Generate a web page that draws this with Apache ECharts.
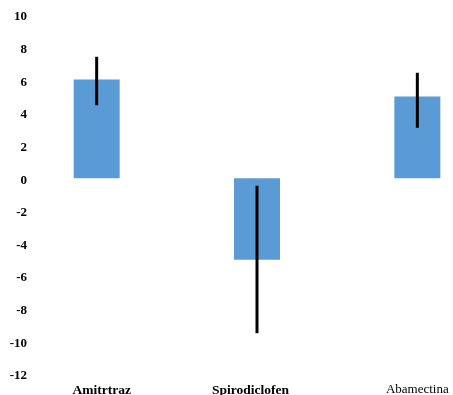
<!DOCTYPE html>
<html>
<head>
<meta charset="utf-8">
<script src="https://cdn.jsdelivr.net/npm/echarts@6/dist/echarts.min.js"></script>
<style>
  html, body { margin: 0; padding: 0; background: #fff; }
  #chart { width: 453px; height: 395px; }
</style>
</head>
<body>
<div id="chart"></div>
<script>
// Treatments and their mean values with error-bar ranges
const categories = ['Amitrtraz', 'Spirodiclofen', 'Abamectina'];
const means = [6.05, -5.0, 5.0];
const errLow = [4.47, -9.5, 3.09];
const errHigh = [7.44, -0.46, 6.46];
const yTicks = [-12, -10, -8, -6, -4, -2, 0, 2, 4, 6, 8, 10];

const chart = echarts.init(document.getElementById('chart'), null, { renderer: 'canvas' });

const serif = '"Liberation Serif", "Times New Roman", serif';
const labelFont = { fontFamily: serif, fontSize: 13, color: '#000' };

chart.setOption({
  animation: false,
  // plot area is wider than the canvas; the last band is clipped on the right
  grid: { left: 16.5, width: 481, top: 15, bottom: 21, outerBoundsMode: 'none', containLabel: false },
  xAxis: {
    type: 'category',
    data: [
      { value: categories[0], textStyle: { fontWeight: 'bold', fontSize: 13.5, padding: [0, 0, 0, 10] } },
      { value: categories[1], textStyle: { fontWeight: 'bold', fontSize: 13.5, padding: [0, 13, 0, 0] } },
      { value: categories[2], textStyle: { fontWeight: 'normal' } }
    ],
    axisLine: { show: false },
    axisTick: { show: false },
    axisLabel: Object.assign({ margin: 9.5, interval: 0 }, labelFont)
  },
  yAxis: {
    type: 'value',
    min: yTicks[0],
    max: yTicks[yTicks.length - 1],
    interval: 2,
    axisLine: { show: false },
    axisTick: { show: false },
    splitLine: { show: false },
    axisLabel: {
      margin: -10.5,
      align: 'right',
      formatter: v => '{t|' + v + '}',
      rich: { t: { fontFamily: serif, fontSize: 13, fontWeight: 'bold', color: '#000', padding: [4, 0, 0, 0] } }
    }
  },
  series: [
    {
      type: 'bar',
      data: means,
      barWidth: 46,
      itemStyle: { color: '#5B9BD5' }
    },
    {
      type: 'custom',
      data: categories.map((c, i) => [i, errLow[i], errHigh[i]]),
      renderItem: function (params, api) {
        const lo = api.coord([api.value(0), api.value(1)]);
        const hi = api.coord([api.value(0), api.value(2)]);
        return {
          type: 'line',
          shape: { x1: lo[0], y1: lo[1], x2: hi[0], y2: hi[1] },
          style: { stroke: '#000', lineWidth: 3 }
        };
      },
      z: 5
    }
  ]
});
</script>
</body>
</html>
